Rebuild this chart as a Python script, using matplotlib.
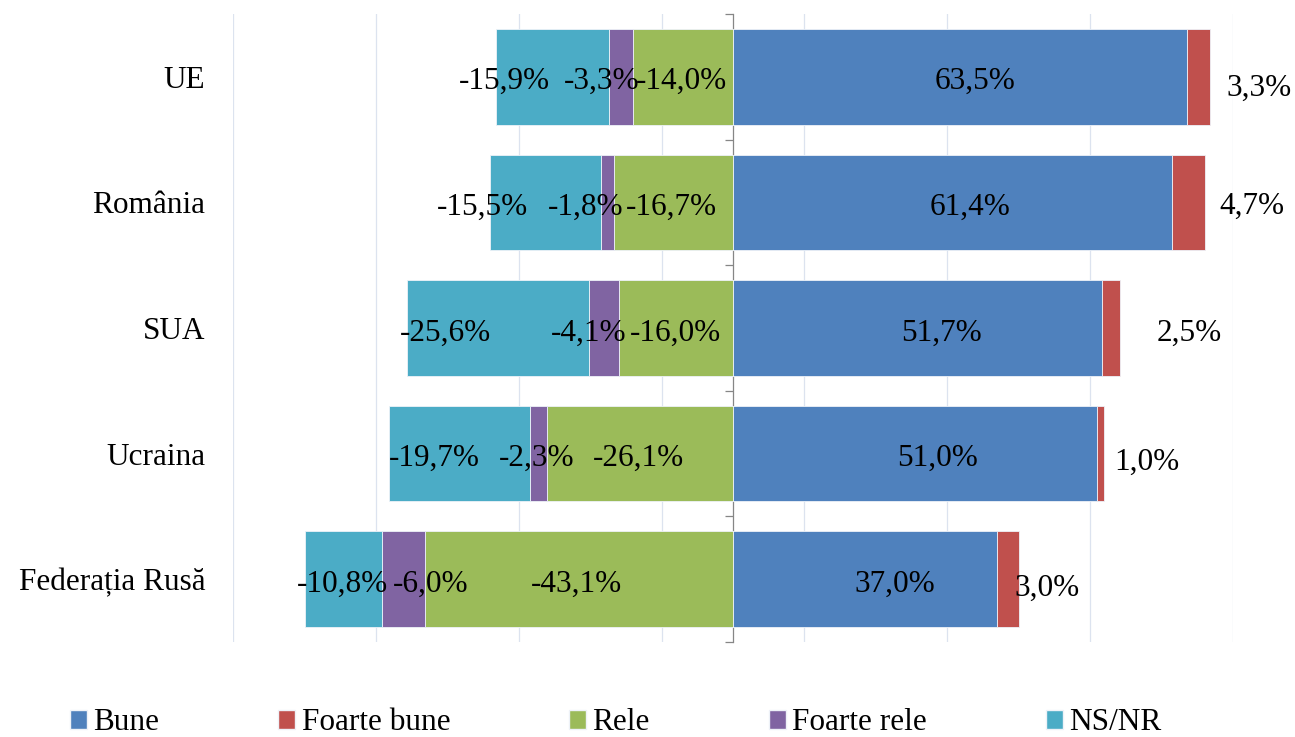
import numpy as np
import matplotlib
matplotlib.use('Agg')
import matplotlib.pyplot as plt
from matplotlib.patches import Patch

plt.rcParams['font.family'] = ['Liberation Serif', 'DejaVu Serif']

# date
categories = ['UE', 'România', 'SUA', 'Ucraina', 'Federația Rusă']
bune = [63.5, 61.4, 51.7, 51.0, 37.0]
foarte_bune = [3.3, 4.7, 2.5, 1.0, 3.0]
rele = [-14.0, -16.7, -16.0, -26.1, -43.1]
foarte_rele = [-3.3, -1.8, -4.1, -2.3, -6.0]
ns_nr = [-15.9, -15.5, -25.6, -19.7, -10.8]

# culori (paleta Excel)
c_bune = '#4F81BD'
c_fb = '#C0504D'
c_rele = '#9BBB59'
c_fr = '#8064A2'
c_ns = '#4BACC6'

# deplasari ale etichetelor fata de centrul segmentului (unitati de date)
off_ns = [-6.7, -8.75, -7.4, -3.5, -0.1]
off_fr = [-2.7, -3.0, -2.1, -0.2, 3.75]
off_rele = [-0.15, -0.2, -0.1, -0.25, -0.3]
off_bune = [2.1, 2.5, 3.4, 3.2, 4.2]
off_fb = [6.9, 6.6, 9.7, 5.9, 4.0]
dy = 0.04
dy_fb = [0.05, -0.01, 0.005, 0.03, 0.03]

FS = 22.5
fig = plt.figure(figsize=(12.95, 7.37), dpi=100)
ax = fig.add_axes([233 / 1295, 1 - 642 / 737, 1000 / 1295, 628 / 737])

y = np.arange(len(categories))
h = 0.76
bune_a = np.array(bune)
fb_a = np.array(foarte_bune)
rele_a = np.array(rele)
fr_a = np.array(foarte_rele)
ns_a = np.array(ns_nr)

kw = dict(height=h, edgecolor='#EEF2F8', linewidth=0.6, zorder=2)
ax.barh(y, bune_a, color=c_bune, **kw)
ax.barh(y, fb_a, left=bune_a, color=c_fb, **kw)
ax.barh(y, rele_a, color=c_rele, **kw)
ax.barh(y, fr_a, left=rele_a, color=c_fr, **kw)
ax.barh(y, ns_a, left=rele_a + fr_a, color=c_ns, **kw)


def fmt(v):
    return ('%.1f%%' % v).replace('.', ',')


for i in range(len(categories)):
    yy = y[i] + dy
    ax.text(bune_a[i] / 2 + off_bune[i], yy, fmt(bune_a[i]), ha='center', va='center', fontsize=FS, zorder=5)
    ax.text(bune_a[i] + fb_a[i] + off_fb[i], yy + dy_fb[i], fmt(fb_a[i]), ha='center', va='center', fontsize=FS, zorder=5)
    ax.text(rele_a[i] / 2 + off_rele[i], yy, fmt(rele_a[i]), ha='center', va='center', fontsize=FS, zorder=5)
    ax.text(rele_a[i] + fr_a[i] / 2 + off_fr[i], yy, fmt(fr_a[i]), ha='center', va='center', fontsize=FS, zorder=5)
    ax.text(rele_a[i] + fr_a[i] + ns_a[i] / 2 + off_ns[i], yy, fmt(ns_a[i]), ha='center', va='center', fontsize=FS, zorder=5)

ax.set_xlim(-70, 70)
ax.set_ylim(len(categories) - 0.5, -0.5)
ax.set_xticks(np.arange(-70, 71, 20))
ax.set_xticklabels([])
ax.tick_params(axis='x', length=0)
ax.grid(axis='x', color='#DCE3EF', linewidth=0.9)
ax.set_axisbelow(True)
for s in ax.spines.values():
    s.set_visible(False)
ax.set_yticks(y)
ax.set_yticklabels(categories, fontsize=FS)
ax.tick_params(axis='y', length=0, pad=20)

# axa verticala la zero cu gradatii intre categorii
sec = ax.secondary_yaxis(0.5)
sec.set_yticks(np.arange(-0.5, len(categories), 1.0))
sec.set_yticklabels([])
sec.tick_params(axis='y', direction='in', length=6, width=0.9, color='#868686')
for s in sec.spines.values():
    s.set_color('#868686')
    s.set_linewidth(0.9)

handles = [Patch(facecolor=c_bune, edgecolor='#EEF2F8', label='Bune'),
           Patch(facecolor=c_fb, edgecolor='#EEF2F8', label='Foarte bune'),
           Patch(facecolor=c_rele, edgecolor='#EEF2F8', label='Rele'),
           Patch(facecolor=c_fr, edgecolor='#EEF2F8', label='Foarte rele'),
           Patch(facecolor=c_ns, edgecolor='#EEF2F8', label='NS/NR')]
fig.legend(handles=handles, loc='center left', bbox_to_anchor=(70 / 1295, 14 / 737), ncol=5,
           frameon=False, fontsize=FS, handlelength=0.55, handleheight=0.55, handletextpad=0.2,
           columnspacing=3.8, borderpad=0, borderaxespad=0)

fig.savefig('out.png', dpi=100)
